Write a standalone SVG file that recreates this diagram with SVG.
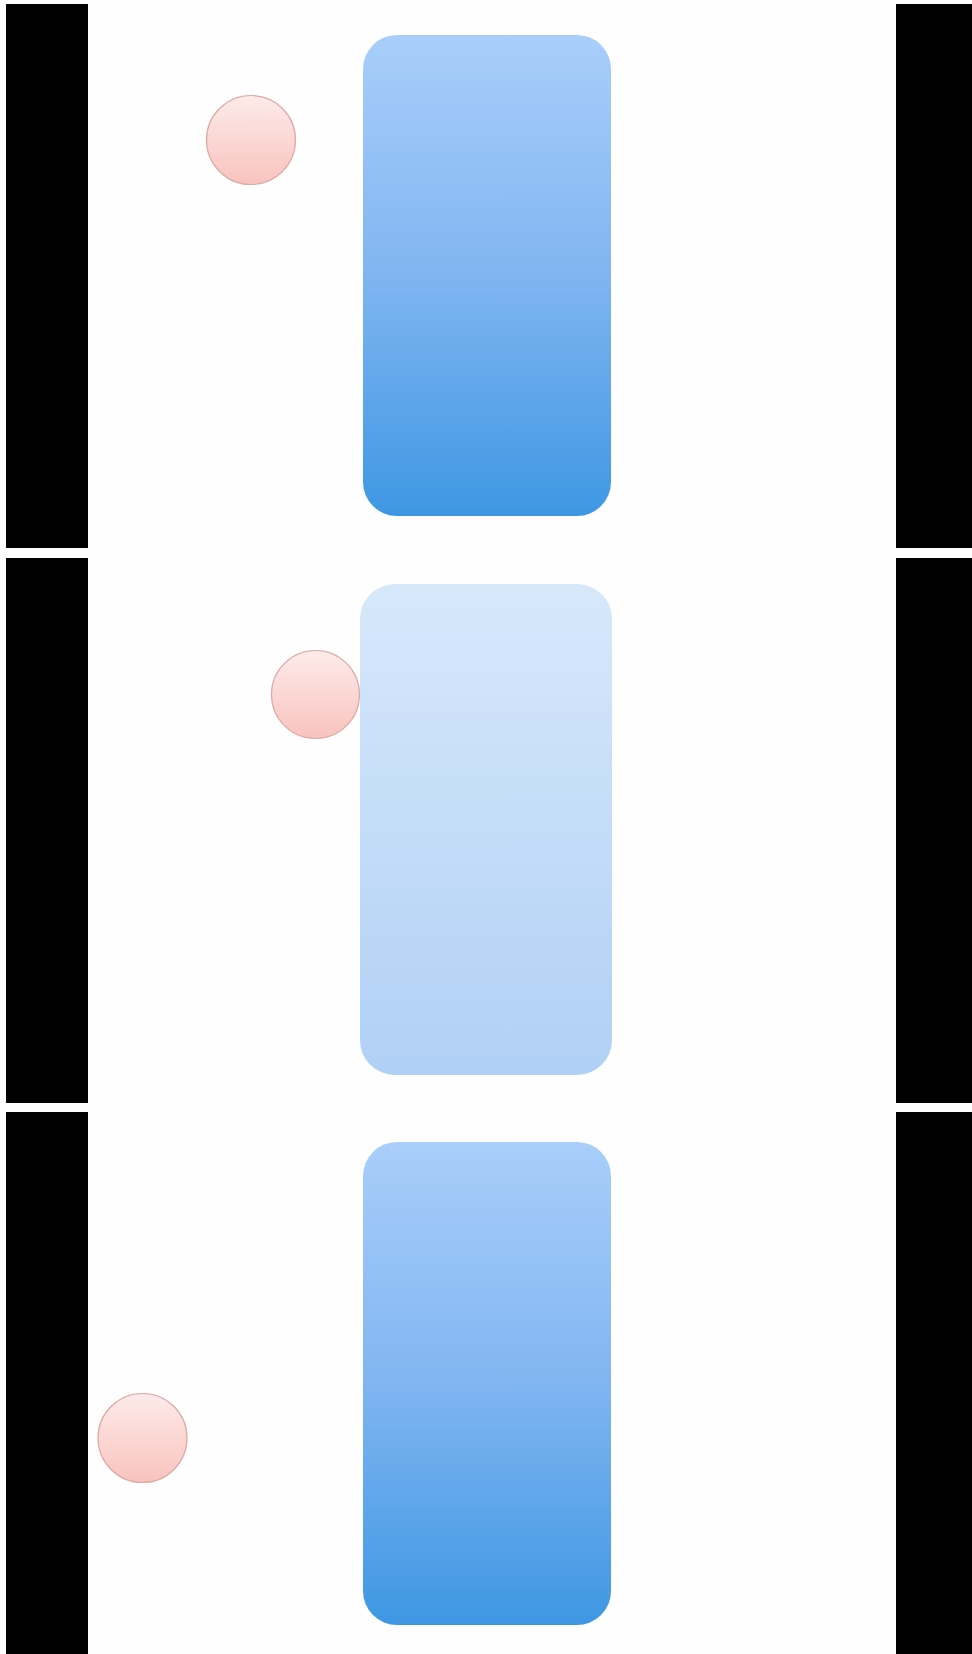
<svg xmlns="http://www.w3.org/2000/svg" width="972" height="1654" viewBox="0 0 972 1654">
<defs>
<style>
.bar{fill:#000}
.box{stroke:none}
.ball{fill:url(#pink);stroke:#dcaaa5;stroke-width:1.2}
</style>
<linearGradient id="blue" x1="0" y1="0" x2="0" y2="1">
<stop offset="0" stop-color="#a9cefa"/>
<stop offset="0.5" stop-color="#80b5f1"/>
<stop offset="1" stop-color="#3e97e3"/>
</linearGradient>
<linearGradient id="pale" x1="0" y1="0" x2="0" y2="1">
<stop offset="0" stop-color="#d7e8fb"/>
<stop offset="1" stop-color="#b0d0f5"/>
</linearGradient>
<linearGradient id="pink" x1="0" y1="0" x2="0" y2="1">
<stop offset="0" stop-color="#fdebea"/>
<stop offset="1" stop-color="#f9c3be"/>
</linearGradient>
</defs>
<rect width="972" height="1654" fill="#fefefe"/>
<g id="frames">
<rect class="bar" x="6" y="4" width="82" height="544"/>
<rect class="bar" x="896" y="4" width="76" height="544"/>
<rect class="bar" x="6" y="558" width="82" height="545"/>
<rect class="bar" x="896" y="558" width="76" height="545"/>
<rect class="bar" x="6" y="1112" width="82" height="542"/>
<rect class="bar" x="896" y="1112" width="76" height="542"/>
</g>
<g id="panel1">
<rect class="box" x="363" y="35" width="248" height="481" rx="34" ry="34" fill="url(#blue)"/>
<path class="ball" d="M206.5 140 A44.5 44.5 0 1 1 295.5 140 A44.5 44.5 0 1 1 206.5 140 Z"/>
</g>
<g id="panel2">
<rect class="box" x="360" y="584" width="252" height="491" rx="35" ry="35" fill="url(#pale)"/>
<path class="ball" d="M271.5 694.5 A44 44 0 1 1 359.5 694.5 A44 44 0 1 1 271.5 694.5 Z"/>
</g>
<g id="panel3">
<rect class="box" x="363" y="1142" width="248" height="483" rx="34" ry="34" fill="url(#blue)"/>
<path class="ball" d="M98 1438 A44.5 44.5 0 1 1 187 1438 A44.5 44.5 0 1 1 98 1438 Z"/>
</g>
<g id="connectors"/>
</svg>
